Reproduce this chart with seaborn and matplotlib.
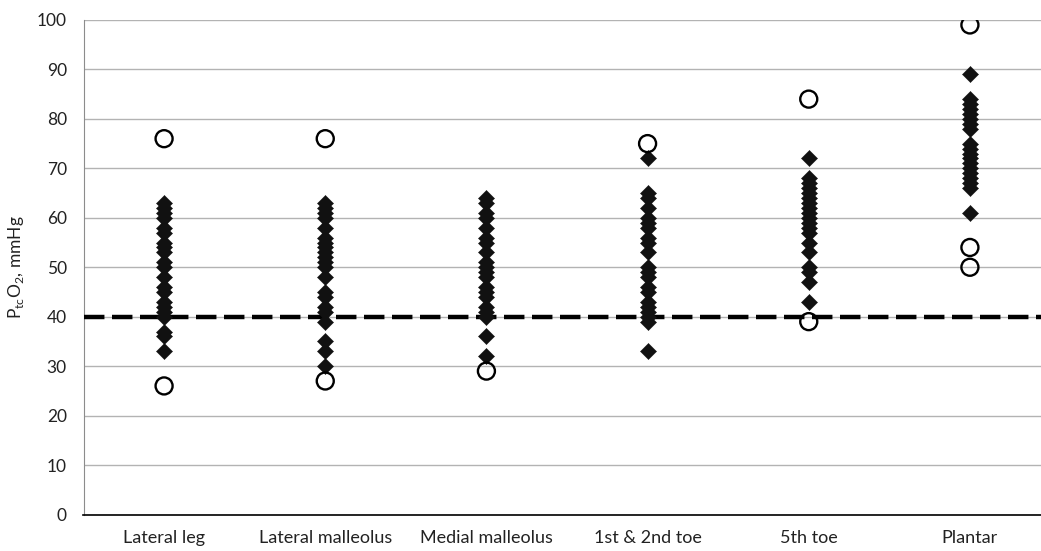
import pandas as pd
import seaborn as sns
import matplotlib.pyplot as plt

# sites along the x axis
sites = ["Lateral leg", "Lateral malleolus", "Medial malleolus",
         "1st & 2nd toe", "5th toe", "Plantar"]

# PtcO2 readings (mmHg)
lateral_leg = [63, 62, 61, 60, 58, 57, 55, 54, 53, 51, 50, 48, 46, 45, 43, 42, 41, 40, 37, 36, 33]
lateral_malleolus = [63, 62, 61, 60, 58, 56, 55, 54, 53, 52, 51, 50, 48, 45, 44, 42, 41, 39, 35, 33, 30]
medial_malleolus = [64, 63, 61, 60, 58, 56, 55, 53, 51, 50, 49, 48, 46, 45, 44, 42, 41, 40, 36, 32]
toe_1_2 = [72, 65, 64, 62, 60, 59, 58, 56, 55, 53, 50, 49, 48, 46, 45, 43, 42, 41, 40, 39, 33]
toe_5 = [72, 68, 67, 66, 65, 64, 63, 62, 61, 60, 59, 58, 57, 55, 53, 50, 49, 47, 43]
plantar = [89, 84, 83, 82, 81, 80, 79, 78, 75, 74, 73, 72, 71, 70, 69, 68, 67, 66, 61]

# open-circle values per site
outliers = {
    "Lateral leg": [76, 26],
    "Lateral malleolus": [76, 27],
    "Medial malleolus": [29],
    "1st & 2nd toe": [75],
    "5th toe": [84, 39],
    "Plantar": [99, 54, 50],
}

threshold = 40

readings = dict(zip(sites, [lateral_leg, lateral_malleolus, medial_malleolus,
                            toe_1_2, toe_5, plantar]))

pts = pd.DataFrame([(s, v) for s in sites for v in readings[s]], columns=["site", "ptco2"])
circ = pd.DataFrame([(s, v) for s in sites for v in outliers[s]], columns=["site", "ptco2"])
pts["site"] = pd.Categorical(pts["site"], categories=sites)
circ["site"] = pd.Categorical(circ["site"], categories=sites)

sns.set_style("white")
plt.rcParams["font.family"] = ["Lato", "DejaVu Sans"]

fig = plt.figure(figsize=(10.41, 5.51), dpi=100)
ax = fig.add_axes([83.5 / 1041, 36.5 / 551, 967 / 1041, 494.5 / 551])

ax.yaxis.grid(True, color="#b3b3b3", linewidth=1)
ax.set_axisbelow(True)

ax.axhline(threshold, color="black", linewidth=3.2, linestyle=(0, (4.6, 1.7)), zorder=3)

sns.scatterplot(data=pts, x="site", y="ptco2", marker="D", s=68,
                color="#111111", edgecolor="#111111", linewidth=0.3, ax=ax, zorder=4)
sns.scatterplot(data=circ, x="site", y="ptco2", marker="o", s=150,
                facecolors="none", edgecolor="black", linewidth=1.7, ax=ax, zorder=5)

ax.set_xlim(-0.5, 5.5)
ax.set_ylim(0, 100)
ax.set_yticks(range(0, 101, 10))
ax.set_xticks(range(len(sites)))
ax.set_xticklabels(sites)
ax.set_xticks([i - 0.5 for i in range(len(sites) + 1)], minor=True)
ax.tick_params(axis="x", which="major", length=0, pad=11, labelsize=13, labelcolor="#222222")
ax.tick_params(axis="x", which="minor", length=5, width=1, color="black", direction="out")
ax.tick_params(axis="y", length=5, width=1, color="#8c8c8c", direction="out",
               labelsize=12.5, labelcolor="#222222", pad=7)

for side in ["top", "right"]:
    ax.spines[side].set_visible(False)
ax.spines["left"].set_color("#8c8c8c")
ax.spines["bottom"].set_color("black")
ax.spines["bottom"].set_linewidth(1.2)

ax.set_xlabel("")
ax.set_ylabel(r"P$_{\mathregular{tc}}$O$_{\mathregular{2}}$, mmHg", fontsize=12.5,
              color="#222222", labelpad=8)

fig.savefig("out.png", dpi=100)
